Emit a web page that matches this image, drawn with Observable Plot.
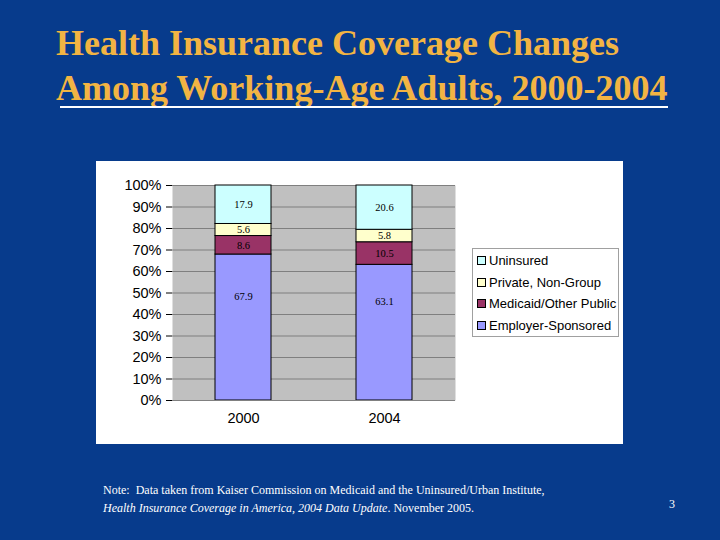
<!DOCTYPE html>
<html><head><meta charset="utf-8">
<script src="https://cdn.jsdelivr.net/npm/d3@7"></script>
<script src="https://cdn.jsdelivr.net/npm/@observablehq/plot@0.6"></script>
<style>
html,body{margin:0;padding:0;}
#page{position:relative;width:720px;height:540px;background:#073b8c;overflow:hidden;font-family:"Liberation Serif",serif;}
#title{position:absolute;left:56px;top:21px;color:#f2b443;font-weight:bold;font-size:36px;line-height:45px;white-space:nowrap;}
#rule{position:absolute;left:60px;top:106px;width:608px;height:2px;background:#fff;}
#panel{position:absolute;left:96px;top:161px;width:527px;height:283px;background:#fff;}
#chart{position:absolute;left:0;top:0;}
#legend{position:absolute;left:376px;top:87px;width:147px;height:89px;border:1px solid #a0a0a0;background:#fff;font-family:"Liberation Sans",Arial,sans-serif;font-size:13px;color:#000;box-sizing:border-box;}
.li{position:absolute;left:4px;white-space:nowrap;}
.sw{display:inline-block;width:7px;height:7px;border:1px solid #000;margin-right:3px;vertical-align:0px;}
#note{position:absolute;left:103px;top:481px;color:#fff;font-size:12px;line-height:18px;white-space:nowrap;}
#pnum{position:absolute;left:669px;top:497px;color:#fff;font-size:12px;}
</style></head>
<body><div id="page">
<div id="title">Health Insurance Coverage Changes<br>Among Working-Age Adults, 2000-2004</div>
<div id="rule"></div>
<div id="panel"><div id="chart"></div><div id="legend"></div></div>
<div id="note">Note:&nbsp; Data taken from Kaiser Commission on Medicaid and the Uninsured/Urban Institute,<br><i>Health Insurance Coverage in America, 2004 Data Update</i>. November 2005.</div>
<div id="pnum">3</div>
</div>
<script>
const years = ["2000", "2004"];
const series = ["Employer-Sponsored", "Medicaid/Other Public", "Private, Non-Group", "Uninsured"];
const employer = [67.9, 63.1];
const medicaid = [8.6, 10.5];
const privateNG = [5.6, 5.8];
const uninsured = [17.9, 20.6];
const colors = ["#9999ff", "#993366", "#ffffcc", "#ccffff"];
const yTicks = [0, 10, 20, 30, 40, 50, 60, 70, 80, 90, 100];

const valuesBySeries = [employer, medicaid, privateNG, uninsured];
const data = [];
series.forEach((s, i) => years.forEach((y, j) => data.push({year: y, series: s, value: valuesBySeries[i][j]})));

const labelFont = {fill: "#000", fontFamily: '"Liberation Serif", serif', fontSize: 10.5};
const plot = Plot.plot({
  width: 527, height: 283,
  marginLeft: 76, marginRight: 168, marginTop: 24, marginBottom: 44,
  style: {fontFamily: '"Liberation Sans", Arial, sans-serif', fontSize: "14.5px", color: "#000", background: "transparent"},
  x: {domain: years, paddingInner: 0.6, paddingOuter: 0.3, label: null, tickSize: 0, tickPadding: 12},
  y: {domain: [0, 100], label: null, ticks: yTicks, tickFormat: d => d + "%", tickSize: 6, tickPadding: 5},
  color: {domain: series, range: colors},
  marks: [
    Plot.frame({fill: "#c0c0c0", stroke: null}),
    Plot.ruleY(yTicks, {stroke: "#7f7f7f", strokeWidth: 1}),
    Plot.barY(data, Plot.stackY({x: "year", y: "value", z: "series", fill: "series", order: series, stroke: "#000", strokeWidth: 1})),
    Plot.text(data, Plot.stackY({x: "year", y: "value", z: "series", order: series, text: d => d.series === series[0] ? "" : d.value.toFixed(1), ...labelFont})),
    Plot.text(data, Plot.stackY({x: "year", y: "value", z: "series", order: series, text: d => d.series === series[0] ? d.value.toFixed(1) : "", ...labelFont, dy: -31})),
    Plot.ruleY([0], {stroke: "#808080"})
  ]
});
document.getElementById("chart").appendChild(plot);

const legend = document.getElementById("legend");
const legendOrder = [3, 2, 1, 0];
legendOrder.forEach((i, k) => {
  const d = document.createElement("div");
  d.className = "li";
  d.style.top = (4 + k * 21.5) + "px";
  d.innerHTML = `<span class="sw" style="background:${colors[i]}"></span>${series[i]}`;
  legend.appendChild(d);
});
</script>
</body></html>
